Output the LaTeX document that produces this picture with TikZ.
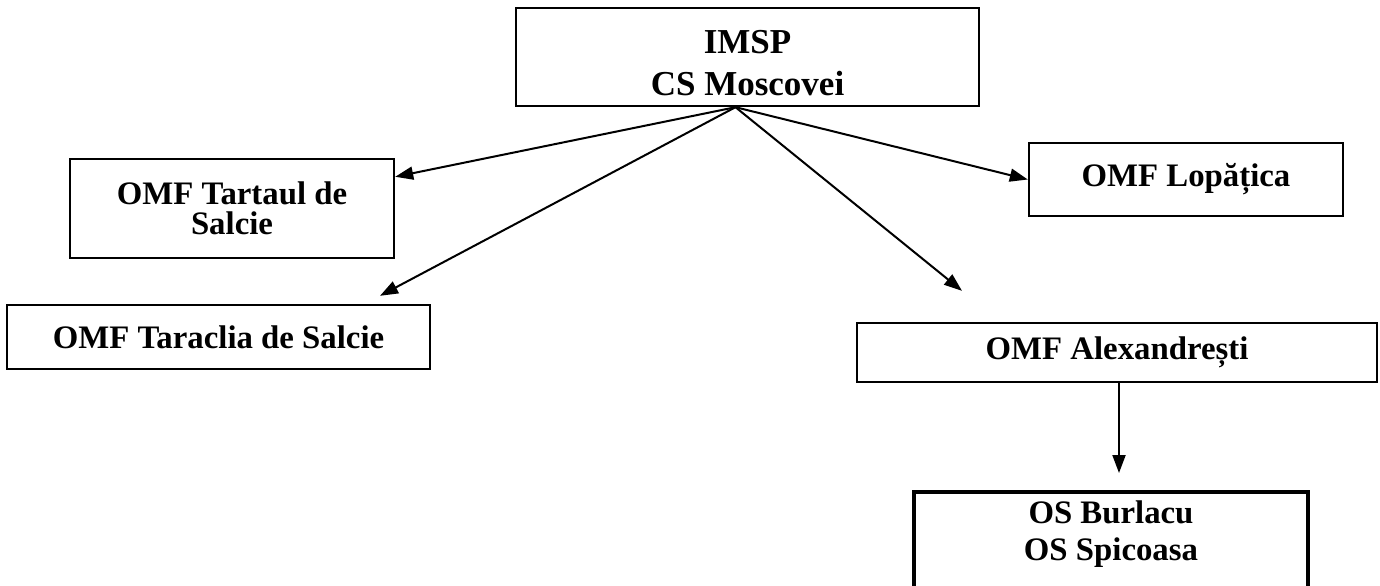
\documentclass[tikz,border=0pt]{standalone}
\usepackage{fontspec}
\setmainfont{Liberation Serif}
\usepackage{tikz}
\usetikzlibrary{positioning, arrows.meta, calc}

\tikzset{
    unit/.style={inner sep=0pt, align=center,
        font=\fontsize{16.4}{15}\selectfont\bfseries},
    unitbox/.style={unit, draw, line width=1.2pt},
    link/.style={-{Triangle[length=9pt, width=6.5pt]}, line width=1pt},
}

\begin{document}
\begin{tikzpicture}[x=0.5pt, y=-0.5pt]
    \clip (0,0) rectangle (1380,585);
    % centrul de sanatate
    \node[unitbox, minimum width=231.5pt, minimum height=49pt,
        font=\fontsize{17.5}{21}\selectfont\bfseries] (imsp) at (747.5,57) {\rule{0pt}{18pt}IMSP\\CS Moscovei};
    % oficiile
    \node[unitbox, minimum width=162pt, minimum height=49.5pt] (tartaul) at (232,208.5) {OMF Tartaul de\\Salcie};
    \node[unitbox, minimum width=157pt, minimum height=36.5pt] (lopatica) at (1186,179.5) {OMF Lopățica};
    \node[unitbox, minimum width=211.5pt, minimum height=32pt] (taraclia) at (218.5,337) {OMF Taraclia de Salcie};
    \node[unitbox, minimum width=260pt, minimum height=29.5pt] (alex) at (1117,352.5) {OMF Alexandrești};
    \node[unit, anchor=north, minimum width=196.5pt, inner ysep=4pt,
        font=\fontsize{16.4}{18.5}\selectfont\bfseries] (burlacu) at (1111,492) {OS Burlacu\\OS Spicoasa};
    \draw[line width=1.8pt] (burlacu.north west) rectangle ($(burlacu.north east)+(0,130)$);

    % legaturi
    \coordinate (hub) at ($(imsp.south)+(-12,0)$);
    \draw[link] (hub) -- (tartaul.11);
    \draw[link] (hub) -- ($(taraclia.north)+(161.5,-8)$);
    \draw[link] (hub) -- (lopatica.west);
    \draw[link] (hub) -- ($(alex.north)+(-155,-31)$);
    \draw[link] ($(alex.south)+(2,0)$) -- ($(burlacu.north)+(8,-19)$);
\end{tikzpicture}
\end{document}
